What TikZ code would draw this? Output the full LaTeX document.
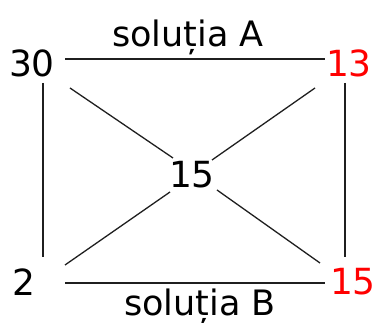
\documentclass[tikz,border=0pt]{standalone}
\usepackage{fontspec}
\setmainfont{DejaVu Sans}
\begin{document}
\begin{tikzpicture}[x=1pt,y=1pt,
  num/.style={inner sep=0pt,font=\fontsize{36}{40}\selectfont},
  lbl/.style={inner sep=0pt,anchor=base,font=\fontsize{35}{40}\selectfont},
  conn/.style={line width=1.3pt,draw=black!88}]
\useasboundingbox (0,0) rectangle (375,323);
\node[num] (n30) at (32,260) {30};
\node[num,text=red] (n13) at (349,260) {13};
\node[num] (n2) at (24,41) {2};
\node[num,text=red] (n15b) at (353,41) {15};
\node[num] (nc) at (192,148) {15};
\node[lbl] (la) at (188,276) {soluția A};
\node[lbl] (lb) at (200,7) {soluția B};
\draw[conn] ([shift={(33,4)}]n30.center) -- ([shift={(-24,4)}]n13.center);
\draw[conn] ([shift={(41,-1)}]n2.center) -- ([shift={(-28,-1)}]n15b.center);
\draw[conn] ([shift={(11,-20)}]n30.center) -- ([shift={(19,25)}]n2.center);
\draw[conn] ([shift={(-4,-20)}]n13.center) -- ([shift={(-8,25)}]n15b.center);
\draw[conn] ([shift={(38,-25)}]n30.center) -- ([shift={(-19,17)}]nc.center);
\draw[conn] ([shift={(-34,-25)}]n13.center) -- ([shift={(20,15)}]nc.center);
\draw[conn] ([shift={(41,17)}]n2.center) -- ([shift={(-22,-17)}]nc.center);
\draw[conn] ([shift={(-33,19)}]n15b.center) -- ([shift={(25,-15)}]nc.center);
\end{tikzpicture}
\end{document}
